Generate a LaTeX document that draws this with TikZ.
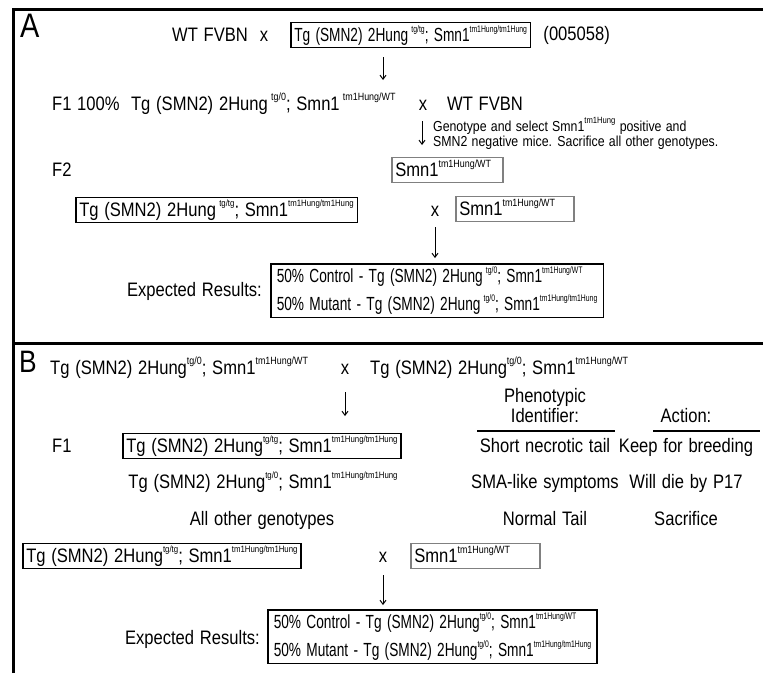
\documentclass[tikz,border=0pt]{standalone}
\usepackage{fontspec}
\setmainfont{Liberation Sans}[FakeStretch=0.85, WordSpace=1.25]
\newfontfamily\nfont{Liberation Sans}[FakeStretch=0.72, WordSpace=1.4]
\usetikzlibrary{arrows.meta}
\newcommand{\su}[1]{\raisebox{0.47em}{\fontsize{10.5}{11}\selectfont #1}}
\newcommand{\st}[1]{\raisebox{0.5em}{\fontsize{9.2}{10}\selectfont #1}}
\newcommand{\sn}[1]{\raisebox{0.47em}{\fontsize{9.5}{10}\selectfont #1}}
\newcommand{\sm}[1]{\raisebox{0.5em}{\fontsize{9}{9}\selectfont #1}}
\newcommand{\msz}{\fontsize{19.5}{22}\selectfont}
\begin{document}
\begin{tikzpicture}[x=1pt,y=-1pt,
  lw/.style={font=\msz, inner sep=0pt, anchor=base west},
  lc/.style={font=\msz, inner sep=0pt, anchor=base},
  le/.style={font=\msz, inner sep=0pt, anchor=base east},
  boxk/.style={draw=black, line width=1.5pt, font=\msz, inner xsep=3.5pt, inner ysep=2pt,
    text height=17pt, text depth=4pt, anchor=west},
  boxg/.style={boxk, draw=black!50, align=left},
  resbox/.style={draw=black, line width=1.5pt, font=\nfont\fontsize{19}{26}\selectfont, align=left,
    inner xsep=6pt, inner ysep=3pt, anchor=north west},
  framel/.style={line width=3pt},
  rulel/.style={line width=2pt},
  arr/.style={-{Straight Barb[length=4pt,width=6pt]}, line width=1pt}
]
\useasboundingbox (0,0) rectangle (763,673);
% frame
\coordinate (fTL) at (13.5,9.5);
\coordinate (fTR) at (763,9.5);
\coordinate (fBL) at (13.5,673);
\coordinate (sL) at (13.5,343);
\coordinate (sR) at (763,343);
\draw[framel] (fBL) -- (fTL) -- (fTR);
\draw[framel] (sL) -- (sR);

% ---------------- Panel A ----------------
\node[font=\fontsize{34}{34}\selectfont, inner sep=0pt, anchor=base west] (labA) at (20,37) {A};
\node[lw] (a1wt) at (172,41) {WT FVBN};
\node[lc] (a1x) at (264,41) {x};
\node[boxk, font=\nfont\fontsize{19}{22}\selectfont] (a1box) at (290,35)
  {Tg (SMN2) 2Hung\,\sn{tg/tg}; Smn1\sn{tm1Hung/tm1Hung}};
\node[lw, anchor=west] (a1num) at ([xshift=12pt]a1box.east) {(005058)};
\coordinate (ar1s) at (383,57);
\coordinate (ar1e) at (383,80);
\draw[arr] (ar1s) -- (ar1e);

\node[lw] (a2f1) at (52,110) {F1};
\node[lw] (a2txt) at (77,110) {100\%\ \ Tg (SMN2) 2Hung\,\su{tg/0}; Smn1\,\su{tm1Hung/WT}};
\node[lc] (a2x) at (423,110) {x};
\node[lw] (a2wt) at (447,110) {WT FVBN};
\coordinate (ar2s) at (422,121);
\coordinate (ar2e) at (422,145);
\draw[arr] (ar2s) -- (ar2e);
\node[font=\fontsize{14.5}{16}\selectfont, inner sep=0pt, anchor=base west] (note1) at (433,131)
  {Genotype and select Smn1\sm{tm1Hung} positive and};
\node[font=\fontsize{14.5}{16}\selectfont, inner sep=0pt, anchor=base west] (note2) at (433,146)
  {SMN2 negative mice. Sacrifice all other genotypes.};

\node[lw] (a3f2) at (52,176) {F2};
\node[boxg, text width=104pt] (a3box) at (391,170) {Smn1\su{tm1Hung/WT}};

\node[boxk] (a4box) at (75,210) {Tg (SMN2) 2Hung\,\st{tg/tg}; Smn1\st{tm1Hung/tm1Hung}};
\node[lc] (a4x) at (435,216) {x};
\node[boxg, text width=111pt] (a4g) at (455,209) {Smn1\su{tm1Hung/WT}};
\coordinate (ar3s) at (435,227);
\coordinate (ar3e) at (435,258);
\draw[arr] (ar3s) -- (ar3e);

\node[le] (a5lab) at (262,296) {Expected Results:};
\node[resbox] (a5box) at (270,263)
  {50\% Control - Tg (SMN2) 2Hung\,\sn{tg/0}; Smn1\sn{tm1Hung/WT}\\[2pt]
   50\% Mutant - Tg (SMN2) 2Hung\,\sn{tg/0}; Smn1\sn{tm1Hung/tm1Hung}};

% ---------------- Panel B ----------------
\node[font=\fontsize{31}{31}\selectfont, inner sep=0pt, anchor=base west] (labB) at (19,372) {B};
\node[lw] (b1l) at (50,374) {Tg (SMN2) 2Hung\su{tg/0}; Smn1\su{tm1Hung/WT}};
\node[lc] (b1x) at (345,374) {x};
\node[lw] (b1r) at (370,374) {Tg (SMN2) 2Hung\su{tg/0}; Smn1\su{tm1Hung/WT}};
\coordinate (br1s) at (345,392);
\coordinate (br1e) at (345,416);
\draw[arr] (br1s) -- (br1e);

\node[lc] (hph1) at (545,402) {Phenotypic};
\node[lc] (hph2) at (545,422) {Identifier:};
\node[lc] (hact) at (686,422) {Action:};
\coordinate (r1a) at (477,431);
\coordinate (r1b) at (615,431);
\coordinate (r2a) at (653,431);
\coordinate (r2b) at (760,431);
\draw[rulel] (r1a) -- (r1b);
\draw[rulel] (r2a) -- (r2b);

\node[lw] (bf1) at (52,452) {F1};
\node[boxk] (bbox1) at (122,446) {Tg (SMN2) 2Hung\st{tg/tg}; Smn1\st{tm1Hung/tm1Hung}};
\node[lc] (bp1) at (545,452) {Short necrotic tail};
\node[lc] (ba1) at (686,452) {Keep for breeding};

\node[lw, anchor=base east] (bg2) at ([xshift=-4pt]bbox1.east |- 0,488) {Tg (SMN2) 2Hung\st{tg/0}; Smn1\st{tm1Hung/tm1Hung}};
\node[lc] (bp2) at (545,488) {SMA-like symptoms};
\node[lc] (ba2) at (686,488) {Will die by P17};

\node[lc] (bg3) at (262,525) {All other genotypes};
\node[lc] (bp3) at (545,525) {Normal Tail};
\node[lc] (ba3) at (686,525) {Sacrifice};

\node[boxk] (bbox2) at (22,556) {Tg (SMN2) 2Hung\st{tg/tg}; Smn1\st{tm1Hung/tm1Hung}};
\node[lc] (bx2) at (383,562) {x};
\node[boxg, text width=122pt] (bgbox) at (410,556) {Smn1\su{tm1Hung/WT}};
\coordinate (br2s) at (383,575);
\coordinate (br2e) at (383,605);
\draw[arr] (br2s) -- (br2e);

\node[le] (b5lab) at (260,644) {Expected Results:};
\node[resbox] (b5box) at (267,609)
  {50\% Control - Tg (SMN2) 2Hung\sn{tg/0}; Smn1\sn{tm1Hung/WT}\\[2pt]
   50\% Mutant - Tg (SMN2) 2Hung\sn{tg/0}; Smn1\sn{tm1Hung/tm1Hung}};
\end{tikzpicture}
\end{document}
